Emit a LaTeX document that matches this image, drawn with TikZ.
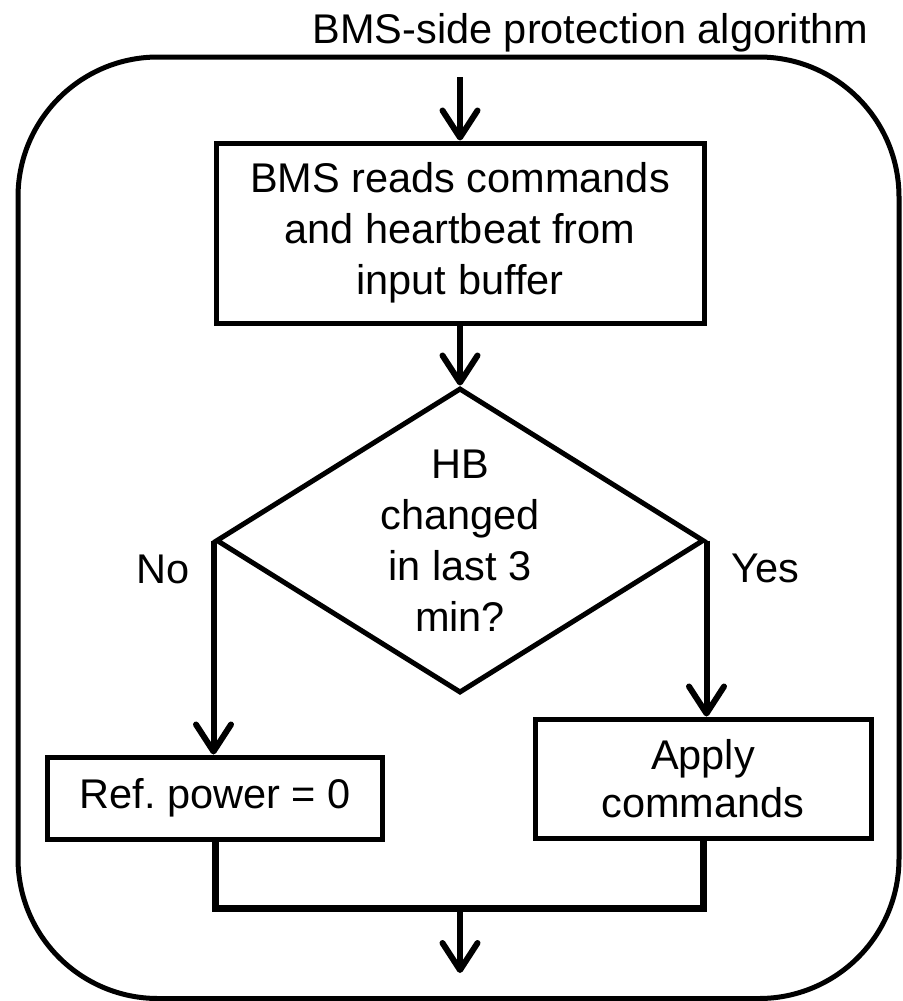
\documentclass[tikz,border=0pt]{standalone}
\usepackage{fontspec}
\setmainfont{Liberation Sans}
\usetikzlibrary{arrows.meta,shapes.geometric}
\frenchspacing
\begin{document}
\begin{tikzpicture}[x=1pt,y=-1pt,
  txt/.style={font=\fontsize{41.5}{51}\selectfont, text=black},
  procbox/.style={draw, line width=5pt, inner sep=0pt, align=center, txt},
  decision/.style={draw, diamond, line width=5pt, inner sep=0pt,
                   minimum width=488pt, minimum height=305pt},
  flow/.style={line width=7pt},
  arr/.style={line width=6pt, -{Straight Barb[length=27pt,width=35pt,round]}},
]
\useasboundingbox (0,0) rectangle (902,1001);

% frame around the whole algorithm
\draw[line width=5pt, rounded corners=140pt] (18,57) rectangle (899,998.5);
\node[txt, anchor=base east] (title) at (872,43) {BMS-side protection algorithm};

% steps
\node[procbox, minimum width=488pt, minimum height=180pt] (read) at (460,233)
  {BMS reads commands\\and heartbeat from\\input buffer};
\node[decision] (dec) at (460,540.5) {};
\node[txt, align=center] (dectext) at (dec.center) {HB\\changed\\in last 3\\min?};
\node[procbox, minimum width=335pt, minimum height=82pt] (zero) at (215,798)
  {Ref. power = 0};
\node[procbox, minimum width=336pt, minimum height=119pt,
      font=\fontsize{41.5}{48}\selectfont] (apply) at (703,778.5)
  {Apply\\commands};

\node[txt, anchor=base east] (no) at (193,583) {No};
\node[txt, anchor=base west] (yes) at (728,582) {Yes};

% connector end points
\coordinate (start) at (460,77);
\coordinate (barL) at (215,908);
\coordinate (barR) at (703,908);
\coordinate (barM) at (460,908);
\coordinate (finish) at (460,973);

% connectors
\draw[arr] (start) -- (read.north);
\draw[arr] (read.south) -- (dec.north);
\draw[arr] (dec.west) -- (dec.west |- zero.north);
\draw[arr] (dec.east) -- (dec.east |- apply.north);
\draw[flow] (zero.south) -- (barL) -- (barR) -- (apply.south);
\draw[arr] (barM) -- (finish);
\end{tikzpicture}
\end{document}
